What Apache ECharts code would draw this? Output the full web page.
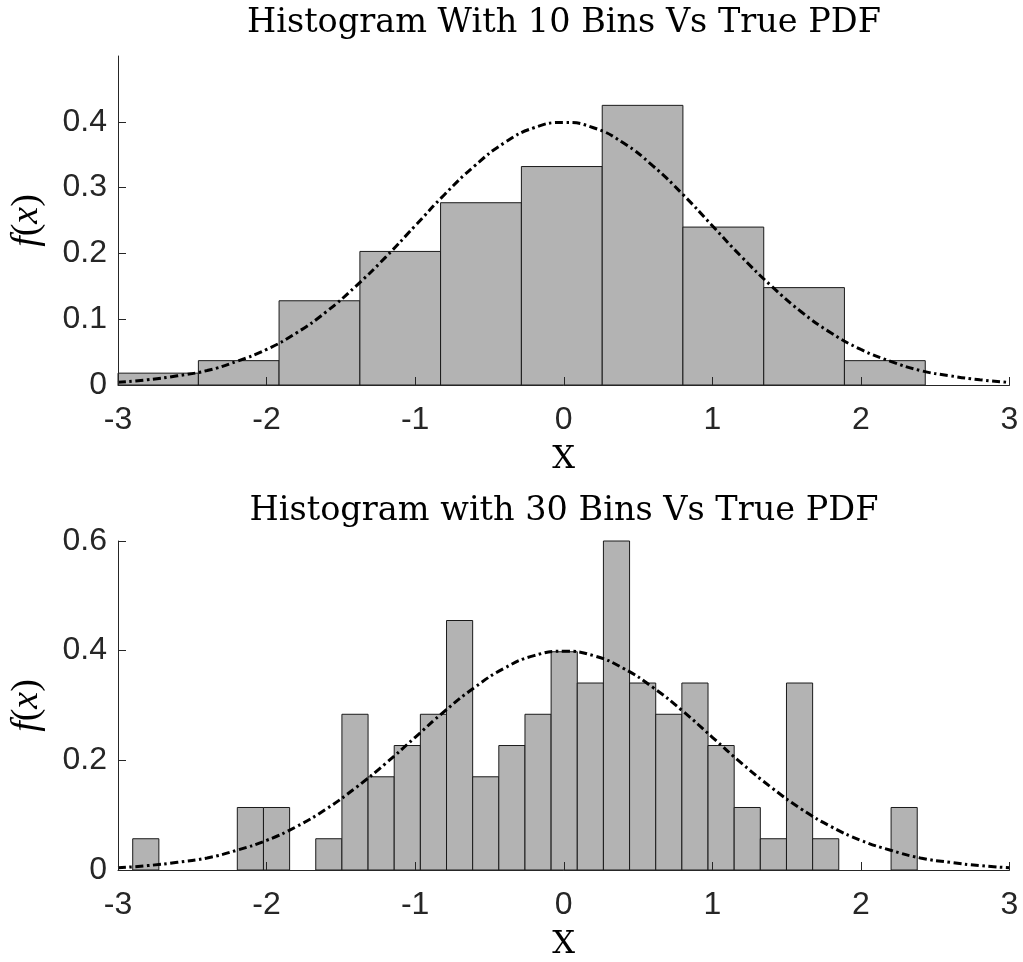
<!DOCTYPE html>
<html>
<head>
<meta charset="utf-8">
<script src="https://cdn.jsdelivr.net/npm/echarts@6/dist/echarts.min.js"></script>
<style>
html,body{margin:0;padding:0;background:#fff;}
#c{width:1023px;height:962px;}
</style>
</head>
<body>
<div id="c"></div>
<script>
// ---- data ----
const titles = ['Histogram With 10 Bins Vs True PDF', 'Histogram with 30 Bins Vs True PDF'];
const xTickValues = [-3, -2, -1, 0, 1, 2, 3];
const yTicksTop = [0, 0.1, 0.2, 0.3, 0.4];
const yTicksBottom = [0, 0.2, 0.4, 0.6];

const hist10Edges = [-3.003, -2.459, -1.916, -1.372, -0.829, -0.285, 0.259, 0.802, 1.346, 1.889, 2.433];
const hist10Density = [0.018, 0.037, 0.128, 0.203, 0.277, 0.332, 0.425, 0.240, 0.148, 0.037];

const hist30Edges = [-2.901, -2.725, -2.549, -2.373, -2.197, -2.021, -1.845, -1.669, -1.493, -1.317,
  -1.141, -0.965, -0.789, -0.613, -0.437, -0.261, -0.085, 0.091, 0.267, 0.443,
  0.619, 0.795, 0.971, 1.147, 1.323, 1.499, 1.675, 1.851, 2.027, 2.203, 2.379];
const hist30Density = [0.057, 0, 0, 0, 0.114, 0.114, 0, 0.057, 0.284, 0.170,
  0.227, 0.284, 0.455, 0.170, 0.227, 0.284, 0.398, 0.341, 0.625, 0.341,
  0.284, 0.341, 0.227, 0.114, 0.057, 0.341, 0.057, 0, 0, 0.114];

const pdfX = [-3, -2.8, -2.6, -2.4, -2.2, -2, -1.8, -1.6, -1.4, -1.2, -1, -0.8, -0.6, -0.4, -0.2, 0,
  0.2, 0.4, 0.6, 0.8, 1, 1.2, 1.4, 1.6, 1.8, 2, 2.2, 2.4, 2.6, 2.8, 3];
const pdfY = [0.004, 0.008, 0.014, 0.022, 0.036, 0.054, 0.079, 0.111, 0.150, 0.194, 0.242, 0.290, 0.333, 0.368, 0.391, 0.399,
  0.391, 0.368, 0.333, 0.290, 0.242, 0.194, 0.150, 0.111, 0.079, 0.054, 0.036, 0.022, 0.014, 0.008, 0.004];

// ---- build ----
function histData(edges, dens) {
  const out = [];
  for (let i = 0; i < dens.length; i++) {
    if (dens[i] > 0) out.push([edges[i], edges[i + 1], dens[i]]);
  }
  return out;
}
const pdfData = pdfX.map((x, i) => [x, pdfY[i]]);

const AXIS_COLOR = '#262626';
const labelFont = 'Liberation Sans, Arial, Helvetica, sans-serif';
const serif = 'DejaVu Serif, Liberation Serif, serif';

function renderBar(params, api) {
  const x0 = api.value(0), x1 = api.value(1), h = api.value(2);
  const p0 = api.coord([x0, h]);
  const p1 = api.coord([x1, 0]);
  const cs = params.coordSys;
  const rect = echarts.graphic.clipRectByRect(
    {x: p0[0], y: p0[1], width: p1[0] - p0[0], height: p1[1] - p0[1]},
    {x: cs.x, y: cs.y, width: cs.width, height: cs.height}
  );
  if (!rect) return;
  return {
    type: 'rect',
    shape: rect,
    style: {fill: '#b3b3b3', stroke: '#1a1a1a', lineWidth: 1}
  };
}

function xAxisCfg(idx) {
  return {
    type: 'value', gridIndex: idx, min: -3, max: 3, interval: 1,
    z: 10,
    axisLine: {show: true, onZero: false, lineStyle: {color: AXIS_COLOR, width: 1}},
    axisTick: {show: true, inside: true, length: 8, lineStyle: {color: AXIS_COLOR}},
    splitLine: {show: false},
    axisLabel: {color: AXIS_COLOR, fontSize: 32, fontFamily: labelFont, margin: 19},
    name: 'X', nameLocation: 'middle', nameGap: 59,
    nameTextStyle: {fontFamily: serif, fontSize: 32, color: '#000'}
  };
}
function yAxisCfg(idx, max, ticks) {
  return {
    type: 'value', gridIndex: idx, min: 0, max: max,
    z: 10,
    axisLine: {show: true, onZero: false, lineStyle: {color: AXIS_COLOR, width: 1}},
    axisTick: {show: true, inside: true, length: 8, customValues: ticks, lineStyle: {color: AXIS_COLOR}},
    axisLabel: {color: AXIS_COLOR, fontSize: 32, fontFamily: labelFont, margin: 11, customValues: ticks},
    splitLine: {show: false},
    name: '{i|f}{n|(}{i|x}{n|)}', nameLocation: 'middle', nameGap: 72, nameRotate: 90,
    nameTextStyle: {
      color: '#000',
      rich: {
        i: {fontFamily: 'Liberation Serif, serif', fontStyle: 'italic', fontSize: 38, color: '#000'},
        n: {fontFamily: 'Liberation Serif, serif', fontSize: 38, color: '#000'}
      }
    }
  };
}

const chart = echarts.init(document.getElementById('c'), null, {renderer: 'canvas'});
chart.setOption({
  animation: false,
  backgroundColor: '#fff',
  title: [
    {text: titles[0], left: 559, top: 1, textAlign: 'center',
      textStyle: {fontFamily: serif, fontWeight: 'normal', fontSize: 33.5, color: '#000'}},
    {text: titles[1], left: 559, top: 489, textAlign: 'center',
      textStyle: {fontFamily: serif, fontWeight: 'normal', fontSize: 33.5, color: '#000'}}
  ],
  grid: [
    {left: 118, top: 56, width: 891.5, height: 329},
    {left: 118, top: 541, width: 891.5, height: 330}
  ],
  xAxis: [xAxisCfg(0), xAxisCfg(1)],
  yAxis: [yAxisCfg(0, 0.5, yTicksTop), yAxisCfg(1, 0.6, yTicksBottom)],
  series: [
    {type: 'custom', xAxisIndex: 0, yAxisIndex: 0, renderItem: renderBar,
      encode: {x: [0, 1], y: 2}, data: histData(hist10Edges, hist10Density), z: 2},
    {type: 'line', xAxisIndex: 0, yAxisIndex: 0, data: pdfData, smooth: true, showSymbol: false,
      lineStyle: {color: '#000', width: 3, type: [8, 3.5, 2.5, 3.5]}, z: 3},
    {type: 'custom', xAxisIndex: 1, yAxisIndex: 1, renderItem: renderBar,
      encode: {x: [0, 1], y: 2}, data: histData(hist30Edges, hist30Density), z: 2},
    {type: 'line', xAxisIndex: 1, yAxisIndex: 1, data: pdfData, smooth: true, showSymbol: false,
      lineStyle: {color: '#000', width: 3, type: [8, 3.5, 2.5, 3.5]}, z: 3}
  ]
});
</script>
</body>
</html>
